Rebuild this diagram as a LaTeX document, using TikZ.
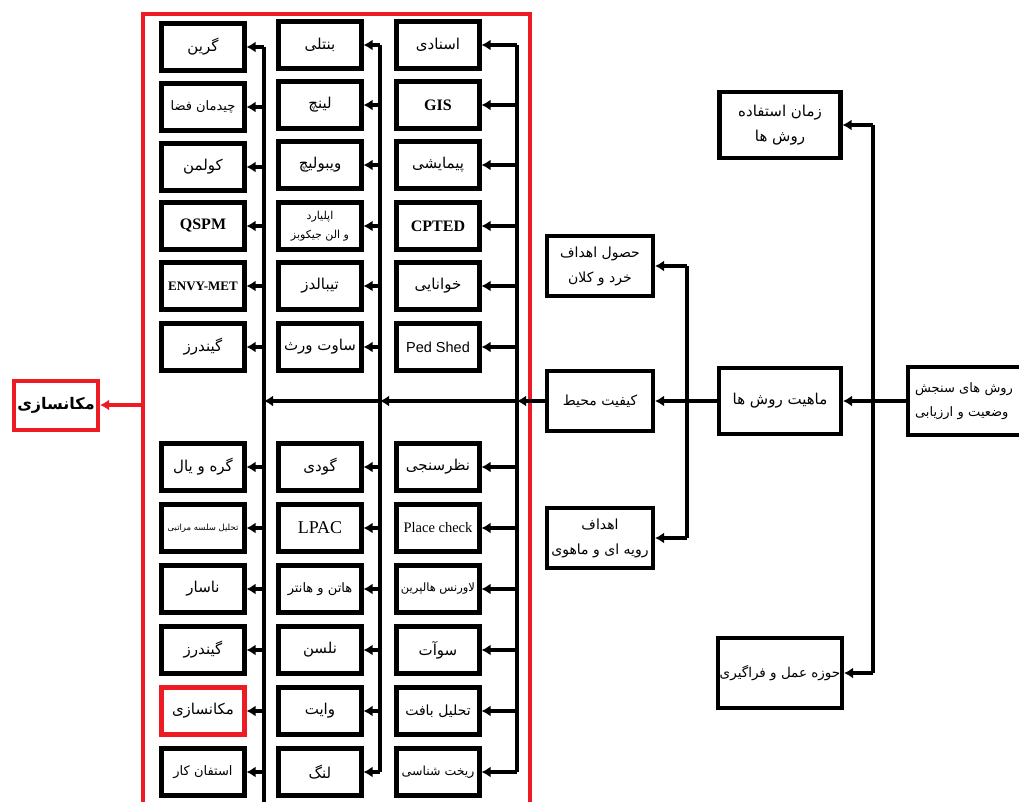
\documentclass[tikz,border=0pt]{standalone}
\usepackage{fontspec}
\usepackage{xcolor}
\usepackage{tikz}
\usetikzlibrary{arrows.meta}
\setmainfont{Liberation Serif}
\newfontfamily\farsi[Script=Arabic]{DejaVu Sans}
\newfontfamily\pedfont{Liberation Sans}
\TeXXeTstate=1
\newcommand{\prs}[1]{{\farsi\beginR #1\endR}}
\definecolor{cFrame}{RGB}{237,28,36}

\begin{document}
\begin{tikzpicture}[x=1pt,y=-1pt,
  box/.style={draw,line width=4.2pt,minimum width=83pt,minimum height=47pt,inner sep=1pt,align=center,font=\fontsize{15}{25}\selectfont},
  bigbox/.style={box,minimum width=106pt,minimum height=60pt,font=\fontsize{14}{25}\selectfont},
  redbox/.style={box,draw=cFrame},
  link/.style={line width=3.6pt},
  feed/.style={link,-{Latex[length=9pt,width=11pt]}}]
\useasboundingbox (0,0) rectangle (1019,802);
% red frame round the three columns
\draw[cFrame,line width=3.2pt] (143,14) rectangle (530,808);
\coordinate (frameW) at (143,405);
\coordinate (busR) at (517,401);
\coordinate (busM) at (380,401);
\coordinate (busL) at (264,401);
\coordinate (bottom) at (264,808);
% right column
\node[box] (r1) at (438,45) {\prs{اسنادی}};
\node[box,font=\bfseries\fontsize{16}{18}\selectfont] (r2) at (438,105) {GIS};
\node[box] (r3) at (438,165) {\prs{پیمایشی}};
\node[box,font=\bfseries\fontsize{16}{18}\selectfont] (r4) at (438,226) {CPTED};
\node[box] (r5) at (438,286) {\prs{خوانایی}};
\node[box,font=\fontsize{14.5}{18}\selectfont] (r6) at (438,347) {\pedfont Ped Shed};
\node[box] (r7) at (438,467) {\prs{نظرسنجی}};
\node[box,font=\fontsize{14.5}{18}\selectfont] (r8) at (438,528) {Place check};
\node[box,font=\fontsize{11.5}{18}\selectfont] (r9) at (438,589) {\prs{لاورنس هالپرین}};
\node[box] (r10) at (438,650) {\prs{سوآت}};
\node[box,font=\fontsize{14}{18}\selectfont] (r11) at (438,711) {\prs{تحلیل بافت}};
\node[box,font=\fontsize{12.5}{18}\selectfont] (r12) at (438,772) {\prs{ریخت شناسی}};
% middle column
\node[box] (m1) at (320,45) {\prs{بنتلی}};
\node[box] (m2) at (320,105) {\prs{لینچ}};
\node[box] (m3) at (320,165) {\prs{ویبولیچ}};
\node[box,font=\fontsize{11}{19}\selectfont] (m4) at (320,226) {\prs{اپلیارد}\\\prs{و الن جیکوبز}};
\node[box] (m5) at (320,286) {\prs{تیبالدز}};
\node[box] (m6) at (320,347) {\prs{ساوت ورث}};
\node[box] (m7) at (320,467) {\prs{گودی}};
\node[box,font=\fontsize{18}{18}\selectfont] (m8) at (320,528) {LPAC};
\node[box,font=\fontsize{13}{18}\selectfont] (m9) at (320,589) {\prs{هاتن و هانتر}};
\node[box] (m10) at (320,650) {\prs{نلسن}};
\node[box] (m11) at (320,711) {\prs{وایت}};
\node[box] (m12) at (320,772) {\prs{لنگ}};
% left column
\node[box] (l1) at (203,47) {\prs{گرین}};
\node[box,font=\fontsize{13}{18}\selectfont] (l2) at (203,107) {\prs{چیدمان فضا}};
\node[box] (l3) at (203,167) {\prs{کولمن}};
\node[box,font=\bfseries\fontsize{16}{18}\selectfont] (l4) at (203,226) {QSPM};
\node[box,font=\bfseries\fontsize{13}{18}\selectfont] (l5) at (203,286) {ENVY-MET};
\node[box] (l6) at (203,347) {\prs{گیندرز}};
\node[box] (l7) at (203,467) {\prs{گره و یال}};
\node[box,font=\fontsize{8.5}{18}\selectfont] (l8) at (203,528) {\prs{تحلیل سلسه مراتبی}};
\node[box] (l9) at (203,589) {\prs{ناسار}};
\node[box] (l10) at (203,650) {\prs{گیندرز}};
\node[redbox] (l11) at (203,711) {\prs{مکانسازی}};
\node[box,font=\fontsize{13}{18}\selectfont] (l12) at (203,772) {\prs{استفان کار}};
% right hand side
\node[box,minimum width=121pt,minimum height=66pt] (time) at (780,125) {\prs{زمان استفاده}\\\prs{روش ها}};
\node[bigbox] (goal1) at (600,266) {\prs{حصول اهداف}\\\prs{خرد و کلان}};
\node[bigbox] (env) at (600,401) {\prs{کیفیت محیط}};
\node[bigbox] (goal2) at (600,538) {\prs{اهداف}\\\prs{رویه ای و ماهوی}};
\node[box,minimum width=122pt,minimum height=66pt] (meth) at (780,401) {\prs{ماهیت روش ها}};
\node[box,minimum width=124pt,minimum height=70pt,font=\fontsize{13.5}{18}\selectfont] (scope) at (780,673) {\prs{حوزه عمل و فراگیری}};
\node[box,minimum width=130pt,minimum height=68pt,anchor=west,align=left,text width=116pt,inner xsep=7pt,font=\fontsize{13}{24}\selectfont] (eval) at (906,401) {\prs{روش های سنجش}\\\prs{وضعیت و ارزیابی}};
\node[draw=cFrame,line width=4pt,minimum width=83pt,minimum height=49pt,font=\bfseries\fontsize{16}{18}\selectfont] (mak) at (56,405) {\prs{مکانسازی}};
\coordinate (busA) at (687,401);
\coordinate (busB) at (873,401);
% buses inside the frame
\draw[link] (busR |- r1) -- (busR |- r12);
\draw[link] (busM |- m1) -- (busM |- m12);
\draw[link] (busL |- l1) -- (bottom);
\draw[feed] (env.west) -- (busR |- env);
\draw[feed] (busR |- env) -- (busM |- env);
\draw[feed] (busM |- env) -- (busL |- env);
\draw[feed] (busR |- r1) -- (r1.east);
\draw[feed] (busR |- r2) -- (r2.east);
\draw[feed] (busR |- r3) -- (r3.east);
\draw[feed] (busR |- r4) -- (r4.east);
\draw[feed] (busR |- r5) -- (r5.east);
\draw[feed] (busR |- r6) -- (r6.east);
\draw[feed] (busR |- r7) -- (r7.east);
\draw[feed] (busR |- r8) -- (r8.east);
\draw[feed] (busR |- r9) -- (r9.east);
\draw[feed] (busR |- r10) -- (r10.east);
\draw[feed] (busR |- r11) -- (r11.east);
\draw[feed] (busR |- r12) -- (r12.east);
\draw[feed] (busM |- m1) -- (m1.east);
\draw[feed] (busM |- m2) -- (m2.east);
\draw[feed] (busM |- m3) -- (m3.east);
\draw[feed] (busM |- m4) -- (m4.east);
\draw[feed] (busM |- m5) -- (m5.east);
\draw[feed] (busM |- m6) -- (m6.east);
\draw[feed] (busM |- m7) -- (m7.east);
\draw[feed] (busM |- m8) -- (m8.east);
\draw[feed] (busM |- m9) -- (m9.east);
\draw[feed] (busM |- m10) -- (m10.east);
\draw[feed] (busM |- m11) -- (m11.east);
\draw[feed] (busM |- m12) -- (m12.east);
\draw[feed] (busL |- l1) -- (l1.east);
\draw[feed] (busL |- l2) -- (l2.east);
\draw[feed] (busL |- l3) -- (l3.east);
\draw[feed] (busL |- l4) -- (l4.east);
\draw[feed] (busL |- l5) -- (l5.east);
\draw[feed] (busL |- l6) -- (l6.east);
\draw[feed] (busL |- l7) -- (l7.east);
\draw[feed] (busL |- l8) -- (l8.east);
\draw[feed] (busL |- l9) -- (l9.east);
\draw[feed] (busL |- l10) -- (l10.east);
\draw[feed] (busL |- l11) -- (l11.east);
\draw[feed] (busL |- l12) -- (l12.east);
% right hand links
\draw[feed] (meth.west) -- (env.east);
\draw[link] (busA |- goal1) -- (busA |- goal2);
\draw[feed] (busA |- goal1) -- (goal1.east);
\draw[feed] (busA |- goal2) -- (goal2.east);
\draw[feed] (eval.west) -- (meth.east);
\draw[link] (busB |- time) -- (busB |- scope);
\draw[feed] (busB |- time) -- (time.east);
\draw[feed] (busB |- scope) -- (scope.east);
% red output
\draw[cFrame,line width=3.2pt,-{Latex[length=9pt,width=11pt]}] (frameW |- mak) -- (mak.east);
\end{tikzpicture}
\end{document}
